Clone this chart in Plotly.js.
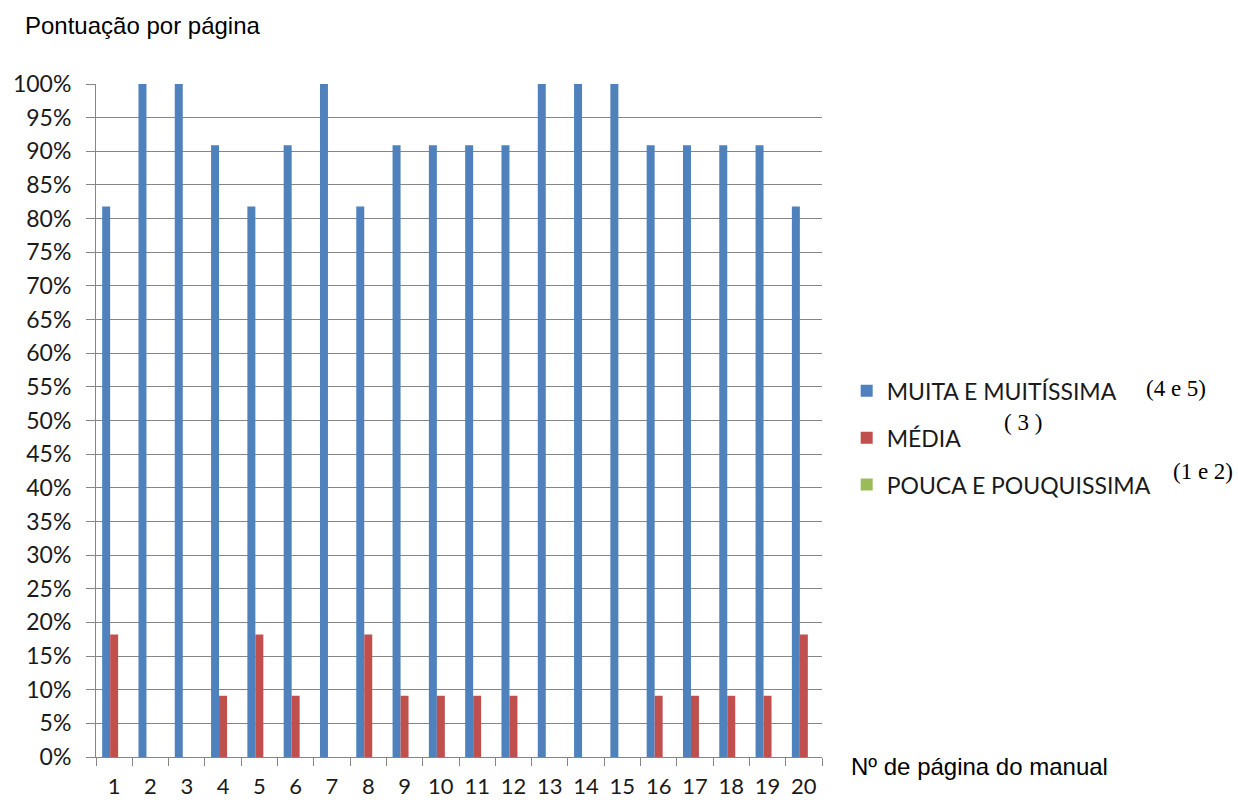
<!DOCTYPE html>
<html><head><meta charset="utf-8">
<script src="https://cdn.plot.ly/plotly-3.0.1.min.js"></script>
<style>body{margin:0;background:#fff}#chart{width:1238px;height:800px}</style>
</head><body><div id="chart"></div>
<script>
const pages = ['1','2','3','4','5','6','7','8','9','10','11','12','13','14','15','16','17','18','19','20'];
const muita = [81.8,100,100,90.9,81.8,90.9,100,81.8,90.9,90.9,90.9,90.9,100,100,100,90.9,90.9,90.9,90.9,81.8];
const media = [18.2,0,0,9.1,18.2,9.1,0,18.2,9.1,9.1,9.1,9.1,0,0,0,9.1,9.1,9.1,9.1,18.2];
const pouca = [0,0,0,0,0,0,0,0,0,0,0,0,0,0,0,0,0,0,0,0];
const seriesNames = ['MUITA E MUITÍSSIMA','MÉDIA','POUCA E POUQUISSIMA'];
const seriesNotes = ['(4 e 5)','( 3 )','(1 e 2)'];
const yTicks = [0,5,10,15,20,25,30,35,40,45,50,55,60,65,70,75,80,85,90,95,100];

const colors = ['#4F81BD','#C0504D','#9BBB59'];
const vals = [muita, media, pouca];
const traces = vals.map((v,i)=>({
  type:'bar', x: pages, y: v.map(d=>d/100), name: seriesNames[i],
  marker:{color: colors[i]}, legendgroup:'g'+i, hoverinfo:'none'
}));

const layout = {
  width:1238, height:800,
  margin:{l:96, r:416, t:84, b:43},
  paper_bgcolor:'#fff', plot_bgcolor:'#fff',
  barmode:'group', bargap:0.34, bargroupgap:0,
  font:{family:'Lato, sans-serif', color:'#000'},
  xaxis:{type:'category', showgrid:false, showline:true, linecolor:'#868686', linewidth:1,
    ticks:'outside', ticklen:8, tickcolor:'#868686', tickson:'boundaries', ticklabelstandoff:10,
    tickfont:{size:22, family:'Lato, sans-serif', color:'#1a1a1a'}, fixedrange:true},
  yaxis:{range:[0,1], tickvals:yTicks.map(t=>t/100), ticktext:yTicks.map(t=>t+'%'),
    showgrid:true, gridcolor:'#868686', gridwidth:1, showline:true, linecolor:'#868686',
    ticks:'outside', ticklen:9, tickcolor:'#868686', zeroline:false, ticklabelstandoff:10,
    tickfont:{size:23, family:'Lato, sans-serif', color:'#1a1a1a'}},
  showlegend:true,
  legend:{x:1.034, xref:'paper', xanchor:'left', y:0.576, yanchor:'top', traceorder:'grouped',
    tracegroupgap:14, font:{size:23, family:'Lato, sans-serif', color:'#1a1a1a'},
    itemwidth:30, bgcolor:'rgba(0,0,0,0)'},
  annotations:[
    {text:'Pontuação por página', xref:'paper', yref:'paper', x:-0.1, y:1.0, xanchor:'left', yanchor:'bottom', yshift:43,
      showarrow:false, font:{family:'Liberation Sans, Arial', size:24}},
    {text:'Nº de página do manual', xref:'paper', yref:'paper', x:1, xshift:27, y:0, yanchor:'middle', yshift:-9, xanchor:'left',
      showarrow:false, font:{family:'Liberation Sans, Arial', size:24}},
    {text:seriesNotes[0], xref:'paper', yref:'paper', x:1, xshift:322, xanchor:'left', y:0.548, yanchor:'middle', showarrow:false,
      font:{family:'Liberation Serif, Times New Roman', size:23}},
    {text:seriesNotes[1], xref:'paper', yref:'paper', x:1, xshift:180, xanchor:'left', y:0.497, yanchor:'middle', showarrow:false,
      font:{family:'Liberation Serif, Times New Roman', size:23}},
    {text:seriesNotes[2], xref:'paper', yref:'paper', x:1, xshift:349, xanchor:'left', y:0.424, yanchor:'middle', showarrow:false,
      font:{family:'Liberation Serif, Times New Roman', size:23}}
  ]
};
Plotly.newPlot('chart', traces, layout, {displayModeBar:false, staticPlot:true});
</script></body></html>
